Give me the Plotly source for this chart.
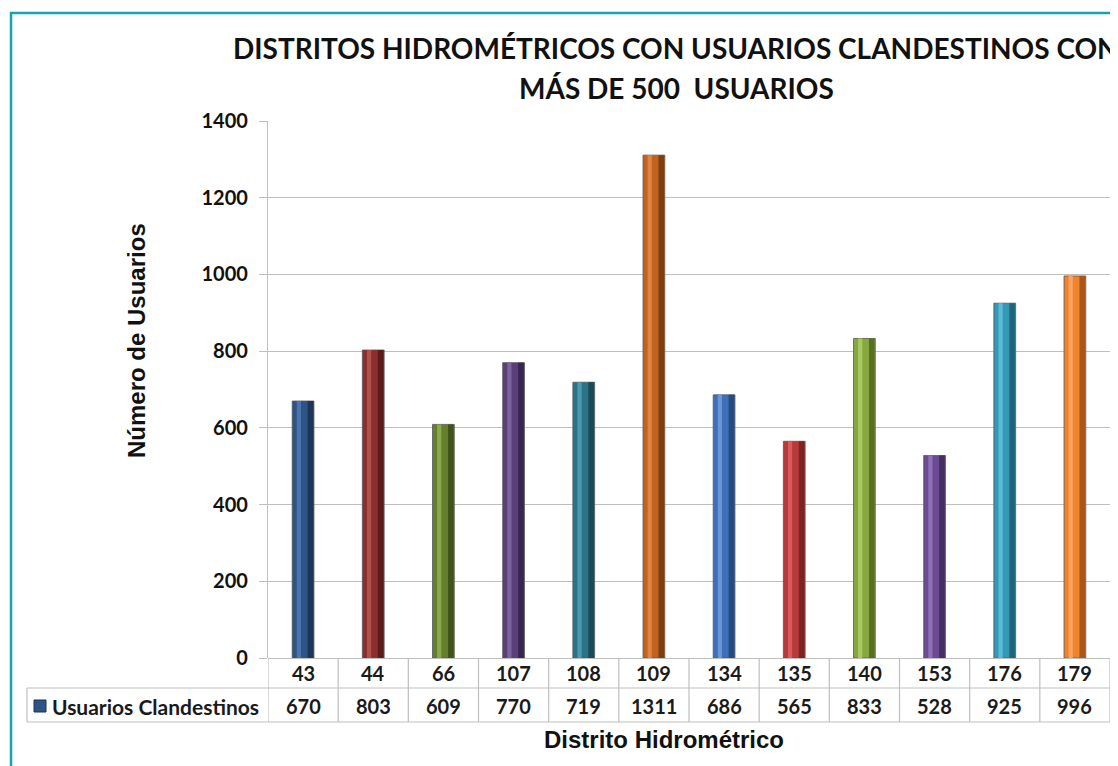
import plotly.graph_objects as go

districts = ["43", "44", "66", "107", "108", "109", "134", "135", "140", "153", "176", "179"]
users = [670, 803, 609, 770, 719, 1311, 686, 565, 833, 528, 925, 996]
bar_colors = ["#2E5385", "#8A2F2D", "#64802E", "#5A3F78", "#2C7388", "#C0631E",
              "#3F6FB8", "#B8393A", "#86A83E", "#6B4C93", "#3399B7", "#EE8330"]
dark_colors = ["#1C3558", "#5A1C1B", "#3F531C", "#392650", "#1A4A58", "#7E3F10",
               "#284A7D", "#7A2424", "#587026", "#45305F", "#1F6479", "#A8561A"]
light_colors = ["#4A74AE", "#B0504C", "#8AA84E", "#7E62A0", "#4C98B0", "#E08443",
                "#6A95D8", "#D85B5A", "#A8C862", "#8E70B5", "#5DBAD6", "#FBA35E"]

series_name = "Usuarios Clandestinos"
title_line1 = "DISTRITOS HIDROMÉTRICOS CON USUARIOS CLANDESTINOS CON"
title_line2 = "MÁS DE 500  USUARIOS"
y_title = "Número de Usuarios"
x_title = "Distrito Hidrométrico"

# page has an 8px body margin; work in reference-pixel coordinates and shift
OFF = 8
W, H = 1118 - OFF, 766 - OFF
L, T = 268 - OFF, 121 - OFF
R = W - (1110 - OFF)
B = H - (658 - OFF)
PW, PH = W - L - R, H - T - B

def px_x(px):
    return (px - OFF - L) / PW

def px_y(py):
    return (H - B - (py - OFF)) / PH

fig = go.Figure()
fig.add_trace(go.Bar(x=districts, y=users, width=0.31, offset=-0.155,
                     marker=dict(color=bar_colors, line=dict(color="#555555", width=0.8)),
                     name=series_name, showlegend=False))
fig.add_trace(go.Bar(x=districts, y=users, width=0.08, offset=0.065,
                     marker=dict(color=dark_colors, line=dict(width=0)),
                     hoverinfo="skip", showlegend=False))
fig.add_trace(go.Bar(x=districts, y=users, width=0.06, offset=-0.09,
                     marker=dict(color=light_colors, line=dict(width=0)),
                     hoverinfo="skip", showlegend=False))

grid = "#BFBFBF"
shapes = []
annotations = []

# Table horizontal lines
y_r1 = px_y(688)
y_r2 = px_y(722)
shapes.append(dict(type="line", xref="paper", yref="paper", x0=px_x(27), x1=1,
                   y0=y_r1, y1=y_r1, line=dict(color=grid, width=1.2)))
shapes.append(dict(type="line", xref="paper", yref="paper", x0=px_x(27), x1=1,
                   y0=y_r2, y1=y_r2, line=dict(color=grid, width=1.2)))
shapes.append(dict(type="line", xref="paper", yref="paper", x0=px_x(27), x1=px_x(27),
                   y0=y_r1, y1=y_r2, line=dict(color=grid, width=1.2)))
# Vertical column separators
for i in range(len(districts) + 1):
    shapes.append(dict(type="line", xref="x", yref="paper", x0=i - 0.5, x1=i - 0.5,
                       y0=0, y1=y_r2, line=dict(color=grid, width=1.2)))

# Legend key square in the table
shapes.append(dict(type="rect", xref="paper", yref="paper", x0=px_x(34), x1=px_x(46),
                   y0=px_y(712), y1=px_y(700), line=dict(color="#1C3558", width=1),
                   fillcolor="#2E5385"))

# Outer teal border
shapes.append(dict(type="rect", xref="paper", yref="paper", x0=px_x(11), x1=1.2,
                   y0=-0.5, y1=px_y(13), line=dict(color="#17A2B0", width=2.5),
                   fillcolor="rgba(0,0,0,0)", layer="below"))

tbl_font = dict(family="Lato, Carlito, Calibri, sans-serif", size=20, color="#1a1a1a", weight=700)
for i, (d, v) in enumerate(zip(districts, users)):
    annotations.append(dict(x=i, y=px_y(673), xref="x", yref="paper", text=d,
                            showarrow=False, font=tbl_font, xanchor="center", yanchor="middle"))
    annotations.append(dict(x=i, y=px_y(706), xref="x", yref="paper", text=f"{v}",
                            showarrow=False, font=tbl_font, xanchor="center", yanchor="middle"))

annotations.append(dict(x=px_x(50), y=px_y(706), xref="paper", yref="paper",
                        text=series_name,
                        showarrow=False, font=dict(family="Lato, Carlito, Calibri, sans-serif",
                                                   size=21, color="#1a1a1a", weight=700),
                        xanchor="left", yanchor="middle"))

title_font = dict(family="Lato, Carlito, Calibri, sans-serif", size=28, color="#111111", weight=700)
annotations.append(dict(x=px_x(676), y=px_y(48), xref="paper", yref="paper", text=title_line1,
                        showarrow=False, font=title_font, xanchor="center", yanchor="middle"))
annotations.append(dict(x=px_x(676), y=px_y(88), xref="paper", yref="paper", text=title_line2,
                        showarrow=False, font=title_font, xanchor="center", yanchor="middle"))

axis_font = dict(family="Liberation Sans, Arial, sans-serif", size=24, color="#111111", weight=700)
annotations.append(dict(x=px_x(136), y=px_y(341), xref="paper", yref="paper", text=y_title,
                        textangle=-90, showarrow=False, font=axis_font,
                        xanchor="center", yanchor="middle"))
annotations.append(dict(x=px_x(664), y=px_y(739), xref="paper", yref="paper", text=x_title,
                        showarrow=False, font=axis_font, xanchor="center", yanchor="middle"))

fig.update_layout(
    width=W, height=H,
    margin=dict(l=L, r=R, t=T, b=B),
    paper_bgcolor="white", plot_bgcolor="white",
    barmode="overlay",
    showlegend=False,
    shapes=shapes,
    annotations=annotations,
    xaxis=dict(type="category", showticklabels=False, showgrid=False, zeroline=False,
               showline=False, ticks="", range=[-0.5, len(districts) - 0.5]),
    yaxis=dict(range=[0, 1400], dtick=200, showgrid=True, gridcolor=grid, gridwidth=1.2,
               showline=True, linecolor=grid, linewidth=1.2, ticks="outside", ticklen=8,
               tickcolor=grid, zeroline=True, zerolinecolor=grid, zerolinewidth=1.2,
               ticklabelstandoff=7,
               tickfont=dict(family="Lato, Carlito, Calibri, sans-serif", size=20,
                             color="#111111", weight=700)),
)

fig.write_html("out.html")
